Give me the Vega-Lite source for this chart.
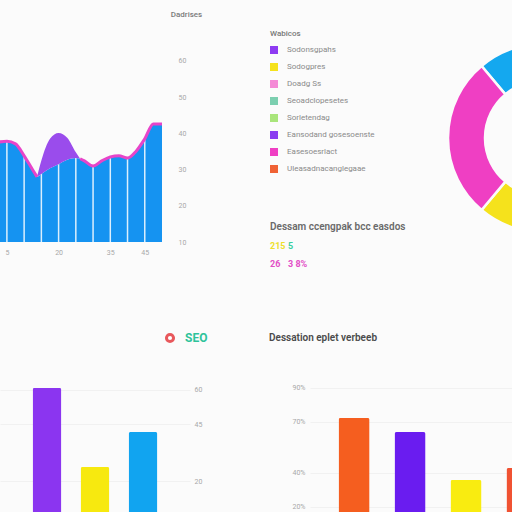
{
  "$schema": "https://vega.github.io/schema/vega-lite/v6.json",
  "background": "#fbfbfb",
  "padding": 0,
  "spacing": 21,
  "resolve": {"scale": {"color": "independent", "stroke": "independent"}, "legend": {"color": "independent", "stroke": "independent"}},
  "config": {
    "font": "Roboto",
    "view": {"stroke": null},
    "axis": {"domain": false, "ticks": false, "grid": false, "labelColor": "#a8a8a8", "labelFontSize": 7, "title": null}
  },
  "datasets": {
    "trend": [
      {"day": 2.5, "visits": 37.6, "edge": 37.6},
      {"day": 5, "visits": 37.8, "edge": 37.8},
      {"day": 7.5, "visits": 37.1, "edge": 37.1},
      {"day": 10, "visits": 33.8, "edge": 33.8},
      {"day": 12.5, "visits": 29.9, "edge": 29.9},
      {"day": 13.75, "visits": 28.0, "edge": 28.0},
      {"day": 15, "visits": 28.8, "edge": null},
      {"day": 17.5, "visits": 30.4, "edge": null},
      {"day": 20, "visits": 31.5, "edge": null},
      {"day": 22.5, "visits": 32.7, "edge": null},
      {"day": 25, "visits": 33.2, "edge": null},
      {"day": 26.25, "visits": 33.0, "edge": 33.0},
      {"day": 27.5, "visits": 32.4, "edge": 32.4},
      {"day": 30, "visits": 31.0, "edge": 31.0},
      {"day": 32.5, "visits": 32.4, "edge": 32.4},
      {"day": 35, "visits": 33.5, "edge": 33.5},
      {"day": 37.5, "visits": 33.8, "edge": 33.8},
      {"day": 40, "visits": 33.2, "edge": 33.2},
      {"day": 42.5, "visits": 35.1, "edge": 35.1},
      {"day": 45, "visits": 38.5, "edge": 38.5},
      {"day": 47.5, "visits": 42.6, "edge": 42.6},
      {"day": 50, "visits": 42.6, "edge": 42.6}
    ],
    "spike": [
      {"day": 13.75, "low": 28.0, "high": 28.0},
      {"day": 15, "low": 28.8, "high": 32.5},
      {"day": 17.5, "low": 30.4, "high": 38.5},
      {"day": 20, "low": 31.5, "high": 40.1},
      {"day": 22.5, "low": 32.7, "high": 38.8},
      {"day": 25, "low": 33.2, "high": 34.8},
      {"day": 26.25, "low": 33.0, "high": 33.0}
    ],
    "summary": [
      {"line": 1, "lead": "Dessam ccengpak bcc easdos"},
      {"line": 2, "lead": "215", "leadKind": "total", "tail": "5", "tailKind": "delta"},
      {"line": 3, "lead": "26", "leadKind": "share", "tail": "3 8%", "tailKind": "share"}
    ],
    "mix": [
      {"segment": "Doeasacs", "share": 80, "rank": 1},
      {"segment": "Sorletendag", "share": 100, "rank": 2},
      {"segment": "Sodogpres", "share": 80, "rank": 3},
      {"segment": "Easesoesrlact", "share": 100, "rank": 4}
    ],
    "seo": [
      {"channel": "Organic", "metric": "SEO", "score": 60.9},
      {"channel": "Referral", "metric": "SEO", "score": 26.3},
      {"channel": "Direct", "metric": "SEO", "score": 41.6}
    ],
    "comparison": [
      {"item": "Q1", "rate": 0.724},
      {"item": "Q2", "rate": 0.641},
      {"item": "Q3", "rate": 0.359},
      {"item": "Q4", "rate": 0.429}
    ]
  },
  "vconcat": [
    {
      "hconcat": [
        {
          "width": 162,
          "height": 242,
          "encoding": {
            "x": {
              "field": "day", "type": "quantitative",
              "scale": {"domain": [3, 50], "nice": false, "zero": false},
              "axis": {"values": [5, 20, 35, 45], "labelPadding": 6}
            }
          },
          "layer": [
            {
              "data": {"name": "trend"},
              "mark": {"type": "area", "interpolate": "monotone", "color": "#1593f1", "clip": true},
              "encoding": {
                "y": {
                  "field": "visits", "type": "quantitative",
                  "scale": {"domain": [10, 76.85], "nice": false, "zero": false},
                  "axis": {
                    "orient": "right", "values": [10, 20, 30, 40, 50, 60], "labelPadding": 16,
                    "title": "Dadrises", "titleAngle": 0, "titleX": 24, "titleY": 14,
                    "titleAlign": "center", "titleBaseline": "middle",
                    "titleFontSize": 8, "titleFontWeight": 500, "titleColor": "#7a7a7a"
                  }
                }
              }
            },
            {
              "data": {"name": "trend"},
              "transform": [{"filter": "datum.day % 5 === 0 && datum.day < 50"}],
              "mark": {"type": "rule", "color": "#ffffff", "strokeWidth": 1.5, "opacity": 0.85},
              "encoding": {
                "y": {"field": "visits", "type": "quantitative"},
                "y2": {"datum": 10}
              }
            },
            {
              "data": {"name": "spike"},
              "mark": {"type": "area", "interpolate": "monotone", "color": "#9a4cec"},
              "encoding": {
                "y": {"field": "high", "type": "quantitative"},
                "y2": {"field": "low"}
              }
            },
            {
              "data": {"name": "trend"},
              "mark": {"type": "line", "interpolate": "monotone", "color": "#e744c9", "strokeWidth": 3, "clip": true, "invalid": "break-paths-show-domains"},
              "encoding": {
                "y": {"field": "edge", "type": "quantitative"}
              }
            }
          ]
        },
        {
          "width": 196,
          "height": 289,
          "data": {"name": "summary"},
          "encoding": {
            "y": {
              "field": "line", "type": "quantitative", "axis": null,
              "scale": {"domain": [-11.27, 4.35], "nice": false, "zero": false, "reverse": true}
            }
          },
          "layer": [
            {
              "transform": [{"filter": "datum.line === 1"}],
              "mark": {"type": "text", "align": "left", "baseline": "middle", "fontSize": 10, "fontWeight": 600, "color": "#6a6a6a"},
              "encoding": {"text": {"field": "lead"}}
            },
            {
              "transform": [{"filter": "datum.line > 1"}],
              "mark": {"type": "text", "align": "left", "baseline": "middle", "fontSize": 9, "fontWeight": 700},
              "encoding": {
                "text": {"field": "lead"},
                "color": {
                  "field": "leadKind", "type": "nominal", "legend": null,
                  "scale": {"domain": ["total", "delta", "share"], "range": ["#eee02a", "#3ccf9e", "#e24fc6"]}
                }
              }
            },
            {
              "transform": [{"filter": "datum.line > 1"}],
              "mark": {"type": "text", "align": "left", "baseline": "middle", "fontSize": 9, "fontWeight": 700, "dx": 18},
              "encoding": {
                "text": {"field": "tail"},
                "color": {"field": "tailKind", "type": "nominal", "legend": null}
              }
            }
          ]
        },
        {
          "width": 328,
          "height": 276,
          "data": {"name": "mix"},
          "mark": {"type": "arc", "outerRadius": 94, "innerRadius": 57, "stroke": "#fbfbfb", "strokeWidth": 2.5},
          "encoding": {
            "theta": {"field": "share", "type": "quantitative", "stack": true, "scale": {"range": [-0.698, 5.585]}},
            "order": {"field": "rank"},
            "color": {
              "field": "segment", "type": "nominal",
              "scale": {
                "domain": ["Sodonsgpahs", "Sodogpres", "Doadg Ss", "Seoadclopesetes", "Sorletendag", "Eansodand gosesoenste", "Easesoesrlact", "Uleasadnacanglegaae", "Doeasacs"],
                "range": ["#8e3cf2", "#f5e21c", "#f48ad6", "#7ccfb0", "#a9e57b", "#8a3df0", "#ef3fc3", "#f06235", "#14a8ef"]
              },
              "legend": {
                "values": ["Sodonsgpahs", "Sodogpres", "Doadg Ss", "Seoadclopesetes", "Sorletendag", "Eansodand gosesoenste", "Easesoesrlact", "Uleasadnacanglegaae"],
                "title": "Wabicos", "orient": "none", "legendX": -108, "legendY": 30,
                "symbolType": "square", "symbolSize": 64, "symbolStrokeWidth": 0,
                "labelFontSize": 8, "labelColor": "#8a8a8a", "labelOffset": 9, "rowPadding": 9,
                "titleFontSize": 8, "titleColor": "#777777", "titleFontWeight": 500, "titlePadding": 8
              }
            }
          }
        }
      ],
      "spacing": 10,
      "bounds": "flush",
      "resolve": {"scale": {"color": "independent"}, "legend": {"color": "independent"}}
    },
    {
      "hconcat": [
        {
          "width": 190,
          "height": 217,
          "data": {"name": "seo"},
          "mark": {"type": "bar", "cornerRadiusTopLeft": 2, "cornerRadiusTopRight": 2, "strokeWidth": 0},
          "encoding": {
            "x": {"field": "channel", "type": "nominal", "sort": null, "axis": null, "scale": {"paddingInner": 0.4, "paddingOuter": 0.679}},
            "y": {
              "field": "score", "type": "quantitative",
              "scale": {"domain": [0, 95], "nice": false},
              "axis": {"orient": "right", "values": [20, 45, 60], "labelPadding": 4, "grid": true, "gridColor": "#f1f1f1"}
            },
            "color": {
              "field": "channel", "type": "nominal", "legend": null,
              "scale": {"domain": ["Organic", "Referral", "Direct"], "range": ["#8b35f0", "#f7e90f", "#11a4f0"]}
            },
            "stroke": {
              "field": "metric", "type": "nominal",
              "scale": {"range": ["#e8585c"]},
              "legend": {
                "title": null, "orient": "none", "legendX": 164, "legendY": 22,
                "symbolType": "circle", "symbolSize": 50, "symbolStrokeWidth": 3,
                "symbolFillColor": "#ffffff", "symbolOpacity": 1,
                "labelColor": "#2fc39a", "labelFontSize": 12, "labelFontWeight": "bold", "labelOffset": 9,
                "encode": {"symbols": {"update": {"fill": {"value": "#ffffff"}, "strokeWidth": {"value": 3}, "opacity": {"value": 1}}}}
              }
            }
          }
        },
        {
          "width": 100,
          "height": 10,
          "data": {"values": []},
          "mark": "point"
        },
        {
          "width": 256,
          "height": 217,
          "title": {"text": "Dessation eplet verbeeb", "anchor": "start", "frame": "group", "dx": -41, "offset": -33, "fontSize": 10, "fontWeight": 600, "color": "#4a4a4a"},
          "data": {"name": "comparison"},
          "mark": {"type": "bar", "cornerRadiusTopLeft": 2, "cornerRadiusTopRight": 2},
          "encoding": {
            "x": {"field": "item", "type": "nominal", "sort": null, "axis": null, "scale": {"paddingInner": 0.446, "paddingOuter": 0.51}},
            "y": {
              "field": "rate", "type": "quantitative",
              "scale": {"domain": [0.082, 1.359], "nice": false, "zero": false},
              "axis": {"values": [0.2, 0.4, 0.7, 0.9], "format": ".0%", "labelPadding": 5, "grid": true, "gridColor": "#f1f1f1"}
            },
            "color": {
              "field": "item", "type": "nominal", "legend": null,
              "scale": {"domain": ["Q1", "Q2", "Q3", "Q4"], "range": ["#f55e1f", "#6a1cf0", "#f9ec10", "#f05232"]}
            }
          }
        }
      ],
      "spacing": 10,
      "bounds": "flush",
      "resolve": {"scale": {"color": "independent", "stroke": "independent"}, "legend": {"color": "independent", "stroke": "independent"}}
    }
  ]
}
